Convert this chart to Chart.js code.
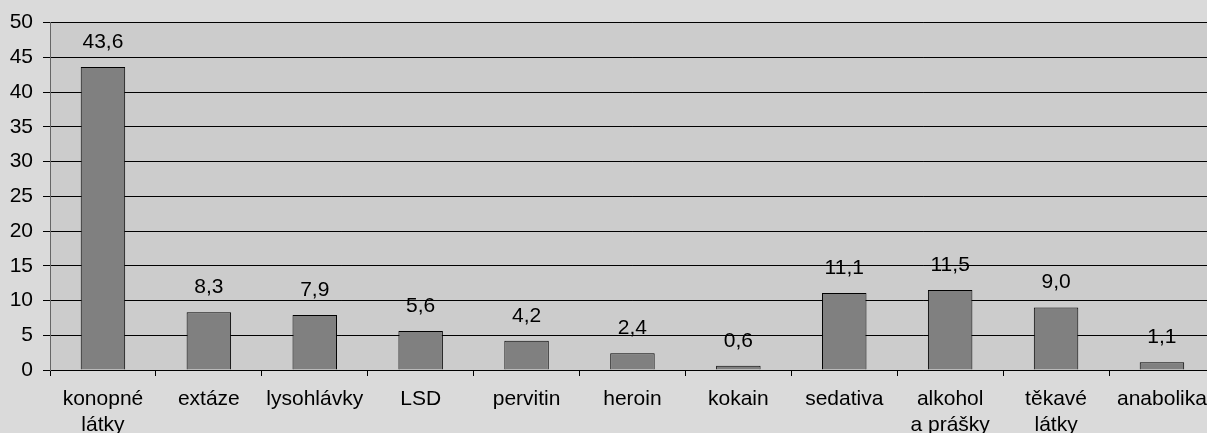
<!DOCTYPE html>
<html lang="cs">
<head>
<meta charset="UTF-8">
<title>Užívání drog</title>
<script src="https://cdn.jsdelivr.net/npm/chart.js"></script>
<style>
    html, body {
        margin: 0;
        padding: 0;
        background-color: #dadada;
        overflow: hidden;
    }
    .wrap {
        width: 1218px;
        height: 433px;
    }
</style>
</head>
<body>
<div class="wrap"><canvas id="graf"></canvas></div>
<script>
const kategorie = [
    ['konopné', 'látky'], 'extáze', 'lysohlávky', 'LSD', 'pervitin', 'heroin',
    'kokain', 'sedativa', ['alkohol', 'a prášky'], ['těkavé', 'látky'], 'anabolika'
];
const hodnoty = [43.6, 8.3, 7.9, 5.6, 4.2, 2.4, 0.6, 11.1, 11.5, 9.0, 1.1];
const osaY = [0, 5, 10, 15, 20, 25, 30, 35, 40, 45, 50];

const pismo = { family: '"Liberation Sans", Arial, sans-serif', size: 21 };

// pozadí plochy grafu
const pozadi = {
    id: 'pozadi',
    beforeDraw(chart) {
        const { ctx, chartArea: a } = chart;
        ctx.save();
        ctx.fillStyle = '#cccccc';
        ctx.fillRect(a.left, a.top, a.right - a.left, a.bottom - a.top);
        ctx.restore();
    }
};

// popisky hodnot nad sloupci
const popisky = {
    id: 'popisky',
    afterDatasetsDraw(chart) {
        const ctx = chart.ctx;
        ctx.save();
        ctx.font = pismo.size + 'px ' + pismo.family;
        ctx.fillStyle = '#000';
        ctx.textAlign = 'center';
        ctx.textBaseline = 'middle';
        chart.getDatasetMeta(0).data.forEach((bar, i) => {
            const txt = hodnoty[i].toFixed(1).replace('.', ',');
            ctx.fillText(txt, bar.x, bar.y - 25);
        });
        ctx.restore();
    }
};

new Chart(document.getElementById('graf'), {
    type: 'bar',
    data: {
        labels: kategorie,
        datasets: [{
            data: hodnoty,
            backgroundColor: '#808080',
            borderColor: '#000',
            borderWidth: 1,
            barPercentage: 0.42,
            categoryPercentage: 1
        }]
    },
    options: {
        responsive: true,
        maintainAspectRatio: false,
        animation: false,
        devicePixelRatio: 1,
        layout: { padding: { top: 20, right: 2, left: 0, bottom: 0 } },
        plugins: {
            legend: { display: false },
            tooltip: { enabled: false }
        },
        scales: {
            x: {
                grid: {
                    drawOnChartArea: false,
                    drawTicks: true,
                    tickLength: 6,
                    color: '#000'
                },
                border: { color: '#000' },
                ticks: {
                    color: '#000',
                    font: { ...pismo, lineHeight: 1.2 },
                    padding: 11,
                    maxRotation: 0,
                    autoSkip: false
                },
                afterFit(scale) { scale.height = 63; }
            },
            y: {
                min: 0,
                max: 50,
                afterBuildTicks(scale) {
                    scale.ticks = osaY.map(v => ({ value: v }));
                },
                grid: {
                    color: '#000',
                    tickLength: 7
                },
                border: { color: '#666' },
                ticks: {
                    color: '#000',
                    font: pismo,
                    padding: 10
                },
                afterFit(scale) { scale.width = 50; }
            }
        }
    },
    plugins: [pozadi, popisky]
});
</script>
</body>
</html>
